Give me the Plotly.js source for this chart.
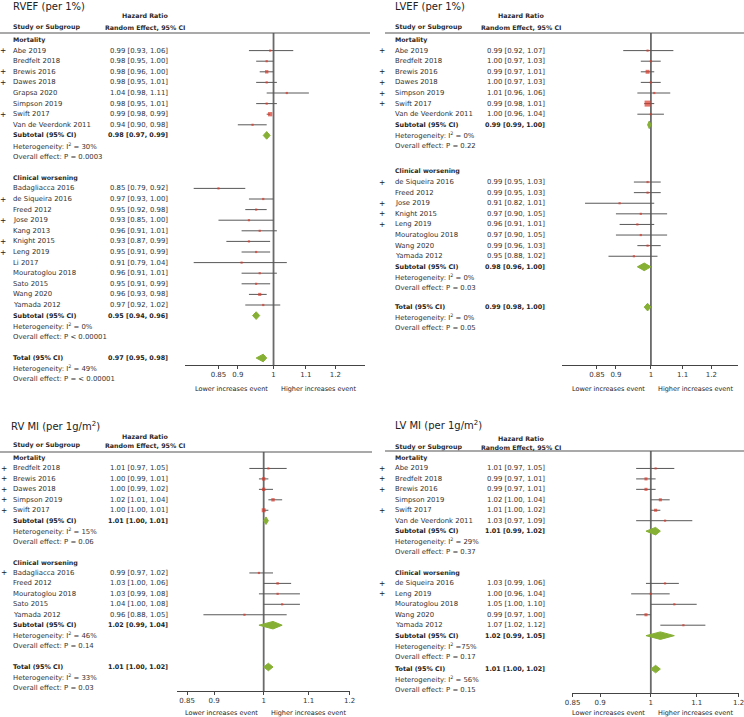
<!DOCTYPE html>
<html>
<head>
<meta charset="utf-8">
<script src="https://cdn.plot.ly/plotly-3.0.1.min.js"></script>
<style>body{margin:0;background:#fff}</style>
</head>
<body>
<div id="chart" style="width:744px;height:717px"></div>
<script>
// RVEF (per 1%)
const rvefMortNames = ['Abe 2019', 'Bredfelt 2018', 'Brewis 2016', 'Dawes 2018', 'Grapsa 2020', 'Simpson 2019', 'Swift 2017', 'Van de Veerdonk 2011'];
const rvefMortHR = [0.99, 0.98, 0.98, 0.98, 1.04, 0.98, 0.99, 0.94];
const rvefMortLo = [0.93, 0.95, 0.96, 0.95, 0.98, 0.95, 0.98, 0.90];
const rvefMortHi = [1.06, 1.00, 1.00, 1.01, 1.11, 1.01, 0.99, 0.98];
const rvefMortWt = [2, 2, 8, 2, 2, 2, 15, 2];
const rvefMortMark = [1, 0, 1, 1, 0, 0, 1, 0];
const rvefClinNames = ['Badagliacca 2016', 'de Siqueira 2016', 'Freed 2012', 'Jose 2019', 'Kang 2013', 'Knight 2015', 'Leng 2019', 'Li 2017', 'Mouratoglou 2018', 'Sato 2015', 'Wang 2020', 'Yamada 2012'];
const rvefClinHR = [0.85, 0.97, 0.95, 0.93, 0.96, 0.93, 0.95, 0.91, 0.96, 0.95, 0.96, 0.97];
const rvefClinLo = [0.79, 0.93, 0.92, 0.85, 0.91, 0.87, 0.91, 0.79, 0.91, 0.91, 0.93, 0.92];
const rvefClinHi = [0.92, 1.00, 0.98, 1.00, 1.01, 0.99, 0.99, 1.04, 1.01, 0.99, 0.98, 1.02];
const rvefClinWt = [2, 2, 2, 2, 2, 2, 2, 2, 2, 2, 6, 2];
const rvefClinMark = [0, 1, 0, 1, 0, 1, 1, 0, 0, 0, 0, 0];
const rvefSub = [[0.98, 0.97, 0.99], [0.95, 0.94, 0.96]];
const rvefHet = ['= 30%', '= 0%'];
const rvefP = ['P = 0.0003', 'P < 0.00001'];
const rvefTotal = [0.97, 0.95, 0.98];
const rvefTotalHet = '= 49%';
const rvefTotalP = 'P = < 0.00001';

// LVEF (per 1%)
const lvefMortNames = ['Abe 2019', 'Bredfelt 2018', 'Brewis 2016', 'Dawes 2018', 'Simpson 2019', 'Swift 2017', 'Van de Veerdonk 2011'];
const lvefMortHR = [0.99, 1.00, 0.99, 1.00, 1.01, 0.99, 1.00];
const lvefMortLo = [0.92, 0.97, 0.97, 0.97, 0.96, 0.98, 0.96];
const lvefMortHi = [1.07, 1.03, 1.01, 1.03, 1.06, 1.01, 1.04];
const lvefMortWt = [2, 2, 12, 2, 2, 35, 2];
const lvefMortMark = [1, 0, 1, 1, 1, 1, 0];
const lvefClinNames = ['de Siqueira 2016', 'Freed 2012', 'Jose 2019', 'Knight 2015', 'Leng 2019', 'Mouratoglou 2018', 'Wang 2020', 'Yamada 2012'];
const lvefClinHR = [0.99, 0.99, 0.91, 0.97, 0.96, 0.97, 0.99, 0.95];
const lvefClinLo = [0.95, 0.95, 0.82, 0.90, 0.91, 0.90, 0.96, 0.88];
const lvefClinHi = [1.03, 1.03, 1.01, 1.05, 1.01, 1.05, 1.03, 1.02];
const lvefClinWt = [2, 2, 2, 2, 2, 2, 2, 2];
const lvefClinMark = [1, 0, 1, 1, 1, 0, 0, 0];
const lvefSub = [[0.99, 0.99, 1.00], [0.98, 0.96, 1.00]];
const lvefHet = ['= 0%', '= 0%'];
const lvefP = ['P = 0.22', 'P = 0.03'];
const lvefTotal = [0.99, 0.98, 1.00];
const lvefTotalHet = '= 0%';
const lvefTotalP = 'P = 0.05';

// RV MI (per 1g/m2)
const rvmiMortNames = ['Bredfelt 2018', 'Brewis 2016', 'Dawes 2018', 'Simpson 2019', 'Swift 2017'];
const rvmiMortHR = [1.01, 1.00, 1.00, 1.02, 1.00];
const rvmiMortLo = [0.97, 0.99, 0.99, 1.01, 1.00];
const rvmiMortHi = [1.05, 1.01, 1.02, 1.04, 1.01];
const rvmiMortWt = [2, 8, 8, 8, 12];
const rvmiMortMark = [1, 1, 1, 1, 1];
const rvmiClinNames = ['Badagliacca 2016', 'Freed 2012', 'Mouratoglou 2018', 'Sato 2015', 'Yamada 2012'];
const rvmiClinHR = [0.99, 1.03, 1.03, 1.04, 0.96];
const rvmiClinLo = [0.97, 1.00, 0.99, 1.00, 0.88];
const rvmiClinHi = [1.02, 1.06, 1.08, 1.08, 1.05];
const rvmiClinWt = [2, 3, 2, 2, 2];
const rvmiClinMark = [1, 0, 0, 0, 0];
const rvmiSub = [[1.01, 1.00, 1.01], [1.02, 0.99, 1.04]];
const rvmiHet = ['= 15%', '= 46%'];
const rvmiP = ['P = 0.06', 'P = 0.14'];
const rvmiTotal = [1.01, 1.00, 1.02];
const rvmiTotalHet = '= 33%';
const rvmiTotalP = 'P = 0.03';

// LV MI (per 1g/m2)
const lvmiMortNames = ['Abe 2019', 'Bredfelt 2018', 'Brewis 2016', 'Simpson 2019', 'Swift 2017', 'Van de Veerdonk 2011'];
const lvmiMortHR = [1.01, 0.99, 0.99, 1.02, 1.01, 1.03];
const lvmiMortLo = [0.97, 0.97, 0.97, 1.00, 1.00, 0.97];
const lvmiMortHi = [1.05, 1.01, 1.01, 1.04, 1.02, 1.09];
const lvmiMortWt = [2, 6, 6, 6, 6, 2];
const lvmiMortMark = [1, 1, 1, 0, 1, 0];
const lvmiClinNames = ['de Siqueira 2016', 'Leng 2019', 'Mouratoglou 2018', 'Wang 2020', 'Yamada 2012'];
const lvmiClinHR = [1.03, 1.00, 1.05, 0.99, 1.07];
const lvmiClinLo = [0.99, 0.96, 1.00, 0.97, 1.02];
const lvmiClinHi = [1.06, 1.04, 1.10, 1.00, 1.12];
const lvmiClinWt = [2, 2, 2, 6, 2];
const lvmiClinMark = [1, 1, 0, 0, 0];
const lvmiSub = [[1.01, 0.99, 1.02], [1.02, 0.99, 1.05]];
const lvmiHet = ['= 29%', '=75%'];
const lvmiP = ['P = 0.37', 'P = 0.17'];
const lvmiTotal = [1.01, 1.00, 1.02];
const lvmiTotalHet = '= 56%';
const lvmiTotalP = 'P = 0.15';

const groupLabels = ['Mortality', 'Clinical worsening'];
const tickVals = [0.85, 0.9, 1, 1.1, 1.2];
const tickText = ['0.85', '0.9', '1', '1.1', '1.2'];

const W = 744, H = 717;
const px = v => v / W;
const py = v => 1 - v / H;
const FONT = '"DejaVu Sans", sans-serif';
const FS = 6.9;
const TXT = '#333';
const RED = '#d9382a', GREEN = '#86b034', CI = '#585858';

// panel layout, in page pixels
const panels = [
  { title: 'RVEF (per 1%)',
    groups: [
      { names: rvefMortNames, hr: rvefMortHR, lo: rvefMortLo, hi: rvefMortHi, wt: rvefMortWt, mark: rvefMortMark },
      { names: rvefClinNames, hr: rvefClinHR, lo: rvefClinLo, hi: rvefClinHi, wt: rvefClinWt, mark: rvefClinMark }],
    sub: rvefSub, het: rvefHet, p: rvefP, total: rvefTotal, totalHet: rvefTotalHet, totalP: rvefTotalP,
    gaps: [2, 2], plusX: 3, nameX: 11, estX: 170, hrX: 145, titleX: 11, titleY: 7, hrY: 16, colY: 27,
    lineY: 33, lineX: [0, 370], axisY: 365, labY: 389, dom: [185, 365], range: [0.77, 1.31],
    top: 0, bottom: 395, row0: 40, rowH: 10.6 },
  { title: 'LVEF (per 1%)',
    groups: [
      { names: lvefMortNames, hr: lvefMortHR, lo: lvefMortLo, hi: lvefMortHi, wt: lvefMortWt, mark: lvefMortMark },
      { names: lvefClinNames, hr: lvefClinHR, lo: lvefClinLo, hi: lvefClinHi, wt: lvefClinWt, mark: lvefClinMark }],
    sub: lvefSub, het: lvefHet, p: lvefP, total: lvefTotal, totalHet: lvefTotalHet, totalP: lvefTotalP,
    gaps: [2.4, 1.8], plusX: 382, nameX: 393, estX: 547, hrX: 521, titleX: 393, titleY: 7, hrY: 16, colY: 27,
    lineY: 33, lineX: [385, 744], axisY: 365, labY: 389, dom: [562, 738], range: [0.765, 1.30],
    top: 0, bottom: 395, row0: 40, rowH: 10.6 },
  { title: 'RV MI (per 1g/m<sup>2</sup>)',
    groups: [
      { names: rvmiMortNames, hr: rvmiMortHR, lo: rvmiMortLo, hi: rvmiMortHi, wt: rvmiMortWt, mark: rvmiMortMark },
      { names: rvmiClinNames, hr: rvmiClinHR, lo: rvmiClinLo, hi: rvmiClinHi, wt: rvmiClinWt, mark: rvmiClinMark }],
    sub: rvmiSub, het: rvmiHet, p: rvmiP, total: rvmiTotal, totalHet: rvmiTotalHet, totalP: rvmiTotalP,
    gaps: [2, 2], plusX: 4, nameX: 11, estX: 170, hrX: 145, titleX: 9, titleY: 426, hrY: 436, colY: 445,
    lineY: 452, lineX: [0, 372], axisY: 691, labY: 713, dom: [177, 350], range: [0.832, 1.201],
    top: 415, bottom: 717, row0: 458, rowH: 10.45 },
  { title: 'LV MI (per 1g/m<sup>2</sup>)',
    groups: [
      { names: lvmiMortNames, hr: lvmiMortHR, lo: lvmiMortLo, hi: lvmiMortHi, wt: lvmiMortWt, mark: lvmiMortMark },
      { names: lvmiClinNames, hr: lvmiClinHR, lo: lvmiClinLo, hi: lvmiClinHi, wt: lvmiClinWt, mark: lvmiClinMark }],
    sub: lvmiSub, het: lvmiHet, p: lvmiP, total: lvmiTotal, totalHet: lvmiTotalHet, totalP: lvmiTotalP,
    gaps: [2, 1.2], plusX: 382, nameX: 393, estX: 547, hrX: 521, titleX: 393, titleY: 425, hrY: 438, colY: 447,
    lineY: 451, lineX: [385, 744], axisY: 693, labY: 713, dom: [572, 739], range: [0.849, 1.201],
    top: 415, bottom: 717, row0: 458, rowH: 10.45 }
];

const fmt = (a, b, c) => `${a.toFixed(2)} [${b.toFixed(2)}, ${c.toFixed(2)}]`;

const traces = [], annotations = [], shapes = [];
const layout = {
  width: W, height: H, margin: { l: 0, r: 0, t: 0, b: 0 },
  paper_bgcolor: '#fff', plot_bgcolor: 'rgba(0,0,0,0)', showlegend: false,
  font: { family: FONT, size: FS, color: TXT }
};

const bold = { family: FONT, size: 6.4, color: '#222', weight: 700 };
const semi = { family: FONT, size: 6.3, color: '#2a2a2a', weight: 700 };

panels.forEach((c, i) => {
  const sfx = i === 0 ? '' : String(i + 1);
  const xr = 'x' + sfx, yr = 'y' + sfx;
  const txt = (text, x, y, opt) => annotations.push(Object.assign({
    text, x: px(x), y, xref: 'paper', yref: yr, showarrow: false,
    xanchor: 'left', yanchor: 'middle', font: { family: FONT, size: FS, color: TXT }
  }, opt || {}));
  const diamond = (s, r) => {
    // when the rounded estimate sits on a bound, centre the tip between the bounds
    const mid = (s[0] === s[1] || s[0] === s[2]) ? Math.sqrt(s[1] * s[2]) : s[0];
    traces.push({
      type: 'scatter', mode: 'lines', xaxis: xr, yaxis: yr, hoverinfo: 'skip',
      x: [s[1], mid, s[2], mid, s[1]], y: [r, r - 0.36, r, r + 0.36, r],
      fill: 'toself', fillcolor: GREEN, line: { color: GREEN, width: 1 }
    });
  };

  const sx = [], sy = [], ep = [], em = [], sz = [];
  let row = 0;
  c.groups.forEach((g, gi) => {
    if (gi > 0) row += c.gaps[0];
    txt(groupLabels[gi], c.nameX, row, { font: semi });
    g.names.forEach((name, k) => {
      row += 1;
      txt(name, c.nameX, row);
      if (g.mark[k]) txt('+', c.plusX, row, { xanchor: 'center', font: { family: FONT, size: 7.5, color: '#222' } });
      txt(fmt(g.hr[k], g.lo[k], g.hi[k]), c.estX, row, { xanchor: 'right' });
      sx.push(g.hr[k]); sy.push(row);
      ep.push(g.hi[k] - g.hr[k]); em.push(g.hr[k] - g.lo[k]);
      sz.push(1 + 0.85 * Math.sqrt(g.wt[k]));
    });
    row += 1;
    const s = c.sub[gi];
    txt('Subtotal (95% CI)', c.nameX, row, { font: bold });
    txt(fmt(s[0], s[1], s[2]), c.estX, row, { xanchor: 'right', font: bold });
    diamond(s, row);
    row += 1;
    txt('Heterogeneity: I<sup>2</sup> ' + c.het[gi], c.nameX, row);
    row += 1;
    txt('Overall effect: ' + c.p[gi], c.nameX, row);
  });
  row += c.gaps[1];
  txt('Total (95% CI)', c.nameX, row, { font: bold });
  txt(fmt(c.total[0], c.total[1], c.total[2]), c.estX, row, { xanchor: 'right', font: bold });
  diamond(c.total, row);
  txt('Heterogeneity: I<sup>2</sup> ' + c.totalHet, c.nameX, row + 1);
  txt('Overall effect: ' + c.totalP, c.nameX, row + 2);

  traces.push({
    type: 'scatter', mode: 'markers', xaxis: xr, yaxis: yr, hoverinfo: 'skip',
    x: sx, y: sy,
    marker: { symbol: 'square', color: RED, size: sz, line: { width: 0 } },
    error_x: { type: 'data', symmetric: false, array: ep, arrayminus: em, color: CI, thickness: 1, width: 0 }
  });

  // column headers
  const hdr = (text, x, y, anchor, font) => annotations.push({
    text, x: px(x), y: py(y), xref: 'paper', yref: 'paper', showarrow: false,
    xanchor: anchor, yanchor: 'middle', font
  });
  hdr(c.title, c.titleX, c.titleY, 'left', { family: FONT, size: 10, color: '#222' });
  hdr('Hazard Ratio', c.hrX, c.hrY, 'center', semi);
  hdr('Random Effect, 95% CI', c.hrX, c.colY, 'center', semi);
  hdr('Study or Subgroup', c.nameX, c.colY, 'left', semi);

  [['Lower increases event', 'right', -4], ['Higher increases event', 'left', 5]].forEach(([t, a, sh]) =>
    annotations.push({
      text: t, x: 0, xref: xr, y: py(c.labY), yref: 'paper', xanchor: a, xshift: sh,
      yanchor: 'middle', showarrow: false, font: { family: FONT, size: 6.5, color: '#1a1a1a' }
    }));

  shapes.push({ type: 'line', xref: 'paper', yref: 'paper', x0: px(c.lineX[0]), x1: px(c.lineX[1]),
    y0: py(c.lineY), y1: py(c.lineY), line: { color: '#555', width: 1.2 } });
  shapes.push({ type: 'line', xref: xr, yref: 'paper', x0: 1, x1: 1, y0: py(c.axisY), y1: py(c.lineY),
    layer: 'below', line: { color: '#6a6a6a', width: 1.8 } });

  layout['xaxis' + sfx] = {
    type: 'log', domain: [px(c.dom[0]), px(c.dom[1])],
    range: [Math.log10(c.range[0]), Math.log10(c.range[1])],
    anchor: 'free', position: py(c.axisY),
    tickvals: tickVals, ticktext: tickText, ticks: 'outside', ticklen: 3, tickcolor: '#444',
    showline: true, linecolor: '#444', linewidth: 1, showgrid: false, zeroline: false,
    ticklabeloverflow: 'allow',
    tickfont: { family: FONT, size: 7, color: TXT }, fixedrange: true
  };
  layout['yaxis' + sfx] = {
    domain: [py(c.bottom), py(c.top)],
    range: [(c.bottom - c.row0) / c.rowH, (c.top - c.row0) / c.rowH],
    anchor: xr, visible: false, showgrid: false, zeroline: false, fixedrange: true
  };
});

layout.annotations = annotations;
layout.shapes = shapes;

Plotly.newPlot('chart', traces, layout, { displayModeBar: false, staticPlot: true });
</script>
</body>
</html>
